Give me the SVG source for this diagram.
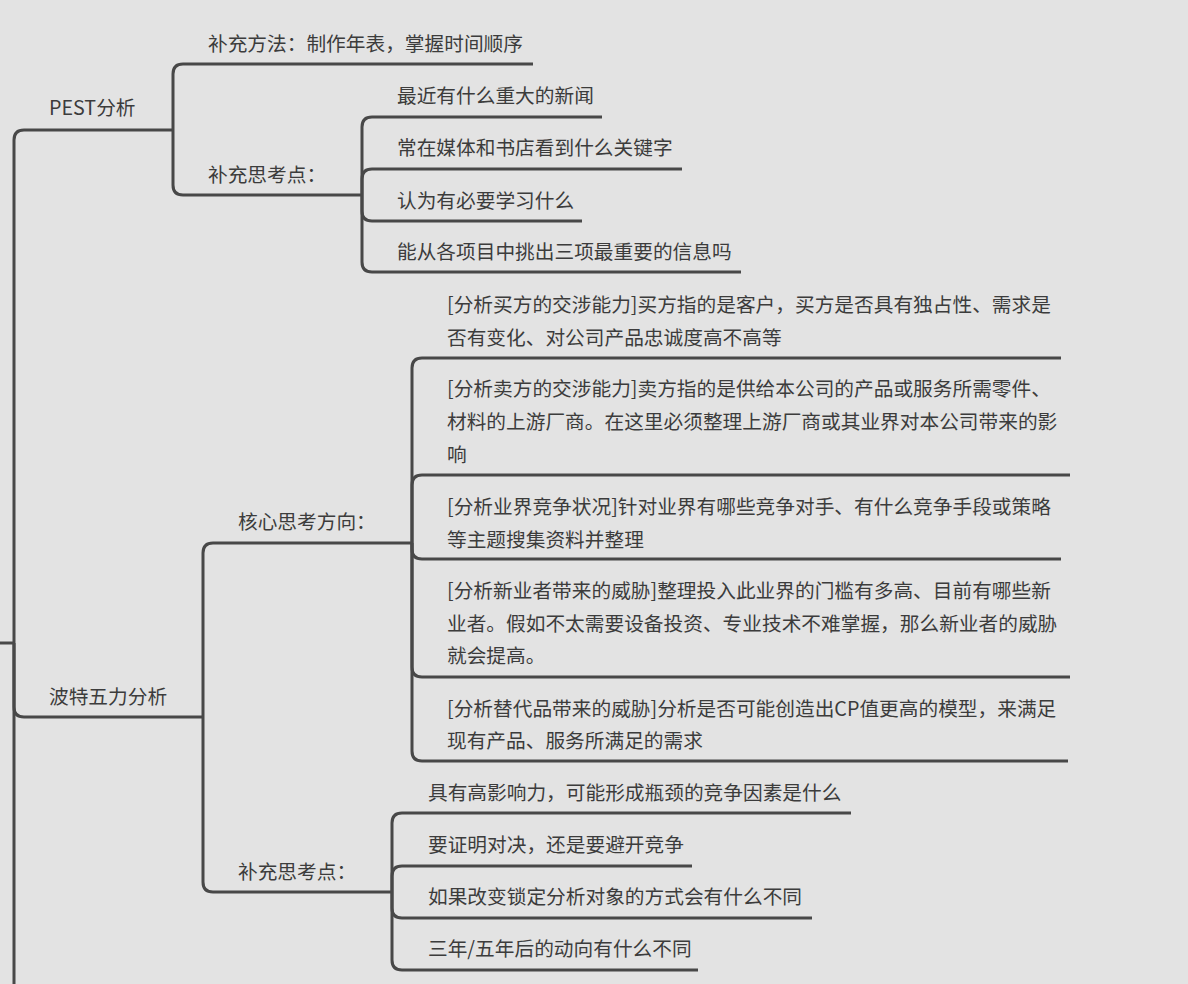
<svg xmlns="http://www.w3.org/2000/svg" width="1188" height="984" viewBox="0 0 1188 984">
<style>
.bg{fill:#e3e3e3}
.c{fill:none;stroke:#484848;stroke-width:3;stroke-linecap:butt;stroke-linejoin:round}
text{font-family:"Noto Sans CJK SC","Noto Sans",sans-serif;font-size:19.7px;fill:#3c3c3c}
</style>
<rect class="bg" x="0" y="0" width="1188" height="984"/>
<g id="connectors">
  <!-- root -->
  <path class="c" d="M0 643 H14"/>
  <path class="c" d="M14 643 V140 Q14 130 24 130 H173"/>
  <path class="c" d="M14 643 V707 Q14 717 24 717 H203"/>
  <path class="c" d="M14 643 V990"/>
  <!-- PEST children -->
  <path class="c" d="M173 130 V74 Q173 64 183 64 H533"/>
  <path class="c" d="M173 130 V185 Q173 195 183 195 H362"/>
  <!-- PEST 补充思考点 children -->
  <path class="c" d="M362 195 V127 Q362 117 372 117 H602"/>
  <path class="c" d="M362 195 V179 Q362 169 372 169 H682"/>
  <path class="c" d="M362 195 V211 Q362 221 372 221 H582"/>
  <path class="c" d="M362 195 V262 Q362 272 372 272 H741"/>
  <!-- 波特 children -->
  <path class="c" d="M203 717 V553 Q203 543 213 543 H412"/>
  <path class="c" d="M203 717 V882 Q203 892 213 892 H392"/>
  <!-- 核心思考方向 children -->
  <path class="c" d="M412 543 V368 Q412 358 422 358 H1061"/>
  <path class="c" d="M412 543 V485 Q412 475 422 475 H1070"/>
  <path class="c" d="M412 543 V549 Q412 559 422 559 H1061"/>
  <path class="c" d="M412 543 V667 Q412 677 422 677 H1070"/>
  <path class="c" d="M412 543 V751 Q412 761 422 761 H1068"/>
  <!-- 波特 补充思考点 children -->
  <path class="c" d="M392 892 V823 Q392 813 402 813 H851"/>
  <path class="c" d="M392 892 V876 Q392 866 402 866 H692"/>
  <path class="c" d="M392 892 V908 Q392 918 402 918 H812"/>
  <path class="c" d="M392 892 V960 Q392 970 402 970 H698"/>
</g>
<g id="node-pest"><text x="49" y="115">PEST分析</text></g>
<g id="node-pest-method"><text x="208" y="51">补充方法：制作年表，掌握时间顺序</text></g>
<g id="node-pest-points"><text x="208" y="182">补充思考点：</text></g>
<g id="node-pest-p1"><text x="397" y="103">最近有什么重大的新闻</text></g>
<g id="node-pest-p2"><text x="397" y="155">常在媒体和书店看到什么关键字</text></g>
<g id="node-pest-p3"><text x="397" y="208">认为有必要学习什么</text></g>
<g id="node-pest-p4"><text x="397" y="259">能从各项目中挑出三项最重要的信息吗</text></g>
<g id="node-porter"><text x="49" y="704">波特五力分析</text></g>
<g id="node-core"><text x="238" y="529">核心思考方向：</text></g>
<g id="node-core-1"><text x="447" y="312">[分析买方的交涉能力]买方指的是客户，买方是否具有独占性、需求是</text><text x="447" y="345">否有变化、对公司产品忠诚度高不高等</text></g>
<g id="node-core-2"><text x="447" y="396">[分析卖方的交涉能力]卖方指的是供给本公司的产品或服务所需零件、</text><text x="447" y="429">材料的上游厂商。在这里必须整理上游厂商或其业界对本公司带来的影</text><text x="447" y="462">响</text></g>
<g id="node-core-3"><text x="447" y="514">[分析业界竞争状况]针对业界有哪些竞争对手、有什么竞争手段或策略</text><text x="447" y="547">等主题搜集资料并整理</text></g>
<g id="node-core-4"><text x="447" y="598">[分析新业者带来的威胁]整理投入此业界的门槛有多高、目前有哪些新</text><text x="447" y="631">业者。假如不太需要设备投资、专业技术不难掌握，那么新业者的威胁</text><text x="447" y="663">就会提高。</text></g>
<g id="node-core-5"><text x="447" y="716">[分析替代品带来的威胁]分析是否可能创造出CP值更高的模型，来满足</text><text x="447" y="748">现有产品、服务所满足的需求</text></g>
<g id="node-porter-points"><text x="238" y="879">补充思考点：</text></g>
<g id="node-pp-1"><text x="428" y="800">具有高影响力，可能形成瓶颈的竞争因素是什么</text></g>
<g id="node-pp-2"><text x="428" y="852">要证明对决，还是要避开竞争</text></g>
<g id="node-pp-3"><text x="428" y="904">如果改变锁定分析对象的方式会有什么不同</text></g>
<g id="node-pp-4"><text x="428" y="956">三年/五年后的动向有什么不同</text></g>
</svg>
